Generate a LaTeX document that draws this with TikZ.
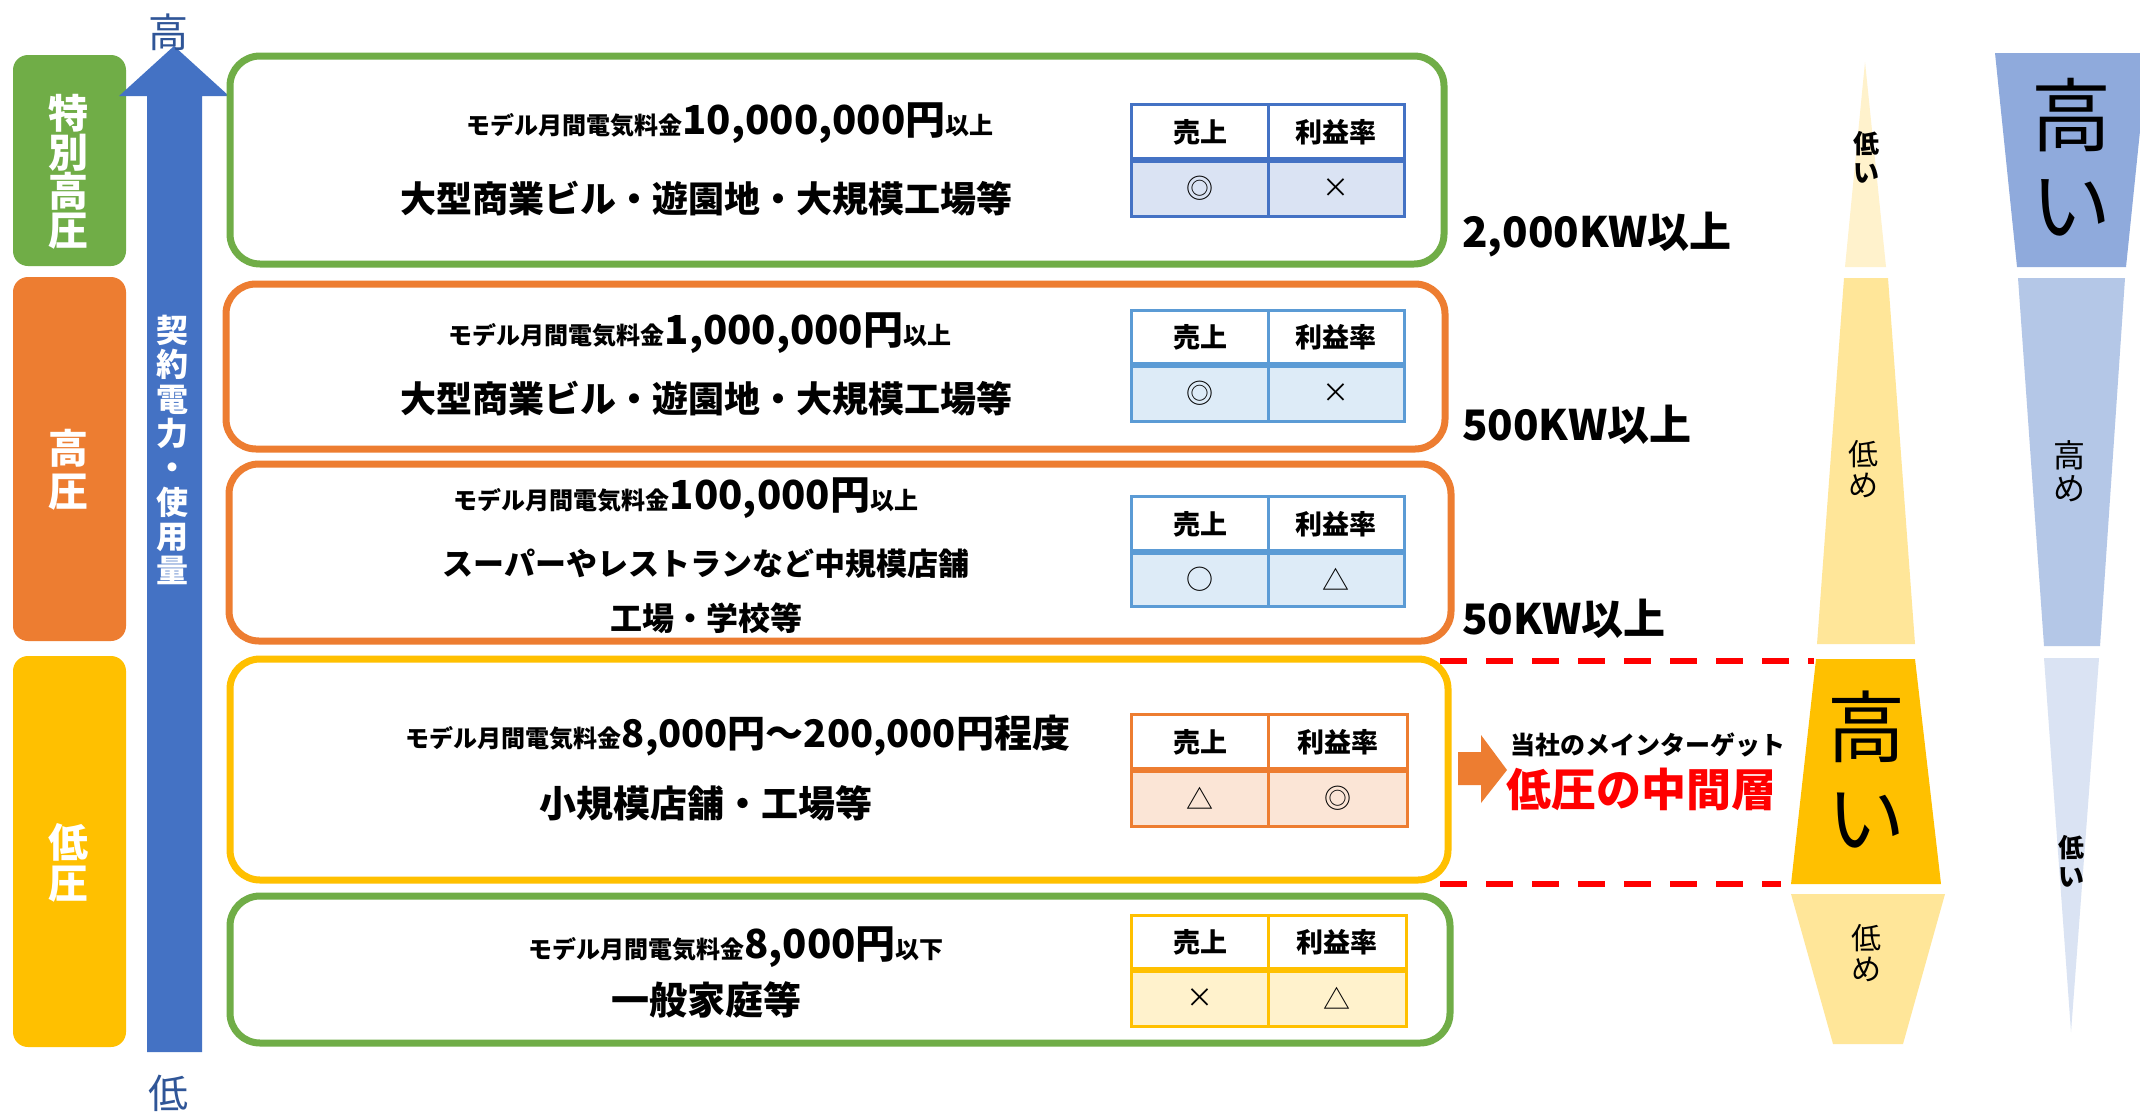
\documentclass[tikz,border=0pt]{standalone}
\usepackage{fontspec}
\setmainfont{Noto Sans CJK JP}
\definecolor{cgreen}{HTML}{70AD47}
\definecolor{corange}{HTML}{ED7D31}
\definecolor{cyellow}{HTML}{FFC000}
\definecolor{cblue}{HTML}{4472C4}
\definecolor{cdblue}{HTML}{2F5597}
\definecolor{ctblue}{HTML}{5B9BD5}
\definecolor{cfillA}{HTML}{DAE3F3}
\definecolor{cfillB}{HTML}{DDEBF7}
\definecolor{cfillO}{HTML}{FBE5D6}
\definecolor{cfillY}{HTML}{FFF2CC}
\definecolor{cyel2}{HTML}{FFE699}
\definecolor{cbl1}{HTML}{8FAADC}
\definecolor{cbl2}{HTML}{B4C7E7}
\definecolor{cred}{HTML}{FF0000}
\newcommand{\fsz}[1]{\fontsize{#1}{#1}\selectfont}
% #1 top, #2 divider, #3 bottom, #4 right, #5 border, #6 fill, #7 sym1, #8 sym2, #9 name
\newcommand{\mytable}[9]{%
  \fill[#6] (1131,#2) rectangle (#4,#3);
  \draw[#5, line width=3pt] (1131,#1) rectangle (#4,#3);
  \draw[#5, line width=3pt] (1268,#1) -- (1268,#3);
  \draw[#5, line width=6pt] (1131,#2) -- (#4,#2);
  \node[hd] (#9h1) at (1200,{(#1+#2)/2}) {売上};
  \node[hd] (#9h2) at ({(1268+#4)/2},{(#1+#2)/2}) {利益率};
  \node[sym] (#9s1) at (1200,{(#2+#3)/2}) {#7};
  \node[sym] (#9s2) at ({(1268+#4)/2},{(#2+#3)/2}) {#8};
}
\begin{document}
\begin{tikzpicture}[x=1pt,y=-1pt,
  bigbox/.style={draw, line width=7pt, rounded corners=30pt, minimum width=#1, inner sep=0pt},
  lbox/.style={fill=#1, rounded corners=15pt},
  hd/.style={inner sep=0pt, font=\fsz{27}\bfseries},
  sym/.style={inner sep=0pt, font=\fsz{27}},
  sm/.style={inner sep=0pt},
  big/.style={inner sep=0pt, font=\bfseries},
  kw/.style={inner sep=0pt, anchor=west, font=\fsz{42}\bfseries},
  vt/.style={inner sep=0pt, align=center}
]
\useasboundingbox[fill=white] (0,0) rectangle (2140,1111);

% left category boxes
\fill[lbox=cgreen] (13,55) rectangle (126,266);
\fill[lbox=corange] (13,277) rectangle (126,641);
\fill[lbox=cyellow] (13,656) rectangle (126,1047);
\node[vt, white, font=\fontsize{40}{39}\selectfont\bfseries] (l1) at (68,171.5) {特\\別\\高\\圧};
\node[vt, white, font=\fontsize{40}{43}\selectfont\bfseries] (l2) at (68,469.5) {高\\圧};
\node[vt, white, font=\fontsize{40}{41}\selectfont\bfseries] (l3) at (68,862.5) {低\\圧};

% big blue arrow
\fill[cblue] (147,1052) -- (147,96) -- (119,96) -- (174,46) -- (229,96) -- (202,96) -- (202,1052) -- cycle;
\node[vt, white, font=\fontsize{32}{34.3}\selectfont\bfseries] (arrtxt) at (172,450) {契\\約\\電\\力\\・\\使\\用\\量};
\node[inner sep=0pt, cdblue, font=\fsz{40}] (hi) at (168,32) {高};
\node[inner sep=0pt, cdblue, font=\fsz{40}] (lo) at (168,1093) {低};

% main boxes
\node[bigbox=1214pt, draw=cgreen, minimum height=208pt] (b1) at (837,160) {};
\node[bigbox=1219pt, draw=corange, minimum height=165pt] (b2) at (835.5,366.5) {};
\node[bigbox=1222pt, draw=corange, minimum height=177pt] (b3) at (840,552.5) {};
\node[bigbox=1218pt, draw=cyellow, minimum height=221pt] (b4) at (839,769.5) {};
\node[bigbox=1220pt, draw=cgreen, minimum height=147pt] (b5) at (840,969.5) {};

% box texts
\node[sm] (t1a) at (730,123) {\bfseries\fsz{24}モデル月間電気料金\fsz{40}10,000,000円\fsz{24}以上};
\node[big, font=\fsz{36}\bfseries] (t1b) at (706,199) {大型商業ビル・遊園地・大規模工場等};
\node[sm] (t2a) at (700,333) {\bfseries\fsz{24}モデル月間電気料金\fsz{40}1,000,000円\fsz{24}以上};
\node[big, font=\fsz{36}\bfseries] (t2b) at (706,399) {大型商業ビル・遊園地・大規模工場等};
\node[sm] (t3a) at (686,498) {\bfseries\fsz{24}モデル月間電気料金\fsz{40}100,000円\fsz{24}以上};
\node[big, font=\fsz{31}\bfseries] (t3b) at (706,564) {スーパーやレストランなど中規模店舗};
\node[big, font=\fsz{32}\bfseries] (t3c) at (706,618) {工場・学校等};
\node[sm] (t4a) at (738,736) {\bfseries\fsz{24}モデル月間電気料金\fsz{38}8,000円～200,000円程度};
\node[big, font=\fsz{37}\bfseries] (t4b) at (706,803) {小規模店舗・工場等};
\node[sm] (t5a) at (736,947) {\bfseries\fsz{24}モデル月間電気料金\fsz{40}8,000円\fsz{24}以下};
\node[big, font=\fsz{38}\bfseries] (t5b) at (706,1000) {一般家庭等};

% tables
\mytable{104}{160}{216}{1404}{cblue}{cfillA}{◎}{×}{ta}
\mytable{310}{365}{421}{1404}{ctblue}{cfillB}{◎}{×}{tb}
\mytable{496}{552}{606}{1404}{ctblue}{cfillB}{○}{△}{tc}
\mytable{714}{770}{826}{1407}{corange}{cfillO}{△}{◎}{td}
\mytable{915}{970}{1026}{1406}{cyellow}{cfillY}{×}{△}{te}

% kW labels
\node[kw] (k1) at (1462,235) {2,000KW以上};
\node[kw] (k2) at (1462,425) {500KW以上};
\node[kw] (k3) at (1462,619) {50KW以上};

% red dashed lines
\coordinate (d1a) at (1440,661); \coordinate (d1b) at (1814,661);
\coordinate (d2a) at (1440,884); \coordinate (d2b) at (1781,884);
\draw[cred, line width=6pt, dash pattern=on 27pt off 19pt] (d1a) -- (d1b);
\draw[cred, line width=6pt, dash pattern=on 27pt off 19pt] (d2a) -- (d2b);

% orange arrow
\fill[corange] (1458,752) -- (1481,752) -- (1481,735) -- (1507,770) -- (1481,803) -- (1481,785) -- (1458,785) -- cycle;
\node[inner sep=0pt, anchor=west, font=\fsz{25}\bfseries] (mt1) at (1510,745) {当社のメインターゲット};
\node[inner sep=0pt, anchor=west, cred, font=\fsz{45}\bfseries] (mt2) at (1506,789) {低圧の中間層};

% yellow column
\fill[cfillY] (1865,62) -- (1886,267) -- (1845,267) -- cycle;
\fill[cyel2] (1844,278) -- (1888,278) -- (1915,644) -- (1817,644) -- cycle;
\fill[cyellow] (1816,659) -- (1915,659) -- (1941,884) -- (1791,884) -- cycle;
\fill[cyel2] (1791,894) -- (1945,894) -- (1903,1044) -- (1833,1044) -- cycle;
\node[vt, font=\fontsize{26}{29}\selectfont\bfseries] (y1) at (1866,157) {低\\い};
\node[vt, font=\fontsize{30}{31}\selectfont] (y2) at (1863,469) {低\\め};
\node[vt, font=\fontsize{78}{91}\selectfont] (y3) at (1866,770) {高\\い};
\node[vt, font=\fontsize{30}{31}\selectfont] (y4) at (1866,953) {低\\め};

% blue column
\fill[cbl1] (1995,53) -- (2148,53) -- (2126,267) -- (2017,267) -- cycle;
\fill[cbl2] (2018,278) -- (2125,278) -- (2100,646) -- (2044,646) -- cycle;
\fill[cfillA] (2044,658) -- (2099,658) -- (2071,1032) -- cycle;
\node[vt, font=\fontsize{80}{90}\selectfont] (bl1) at (2071,157) {高\\い};
\node[vt, font=\fontsize{32}{33}\selectfont] (bl2) at (2069,471) {高\\め};
\node[vt, font=\fontsize{26}{29}\selectfont\bfseries] (bl3) at (2071,861) {低\\い};
\end{tikzpicture}
\end{document}
